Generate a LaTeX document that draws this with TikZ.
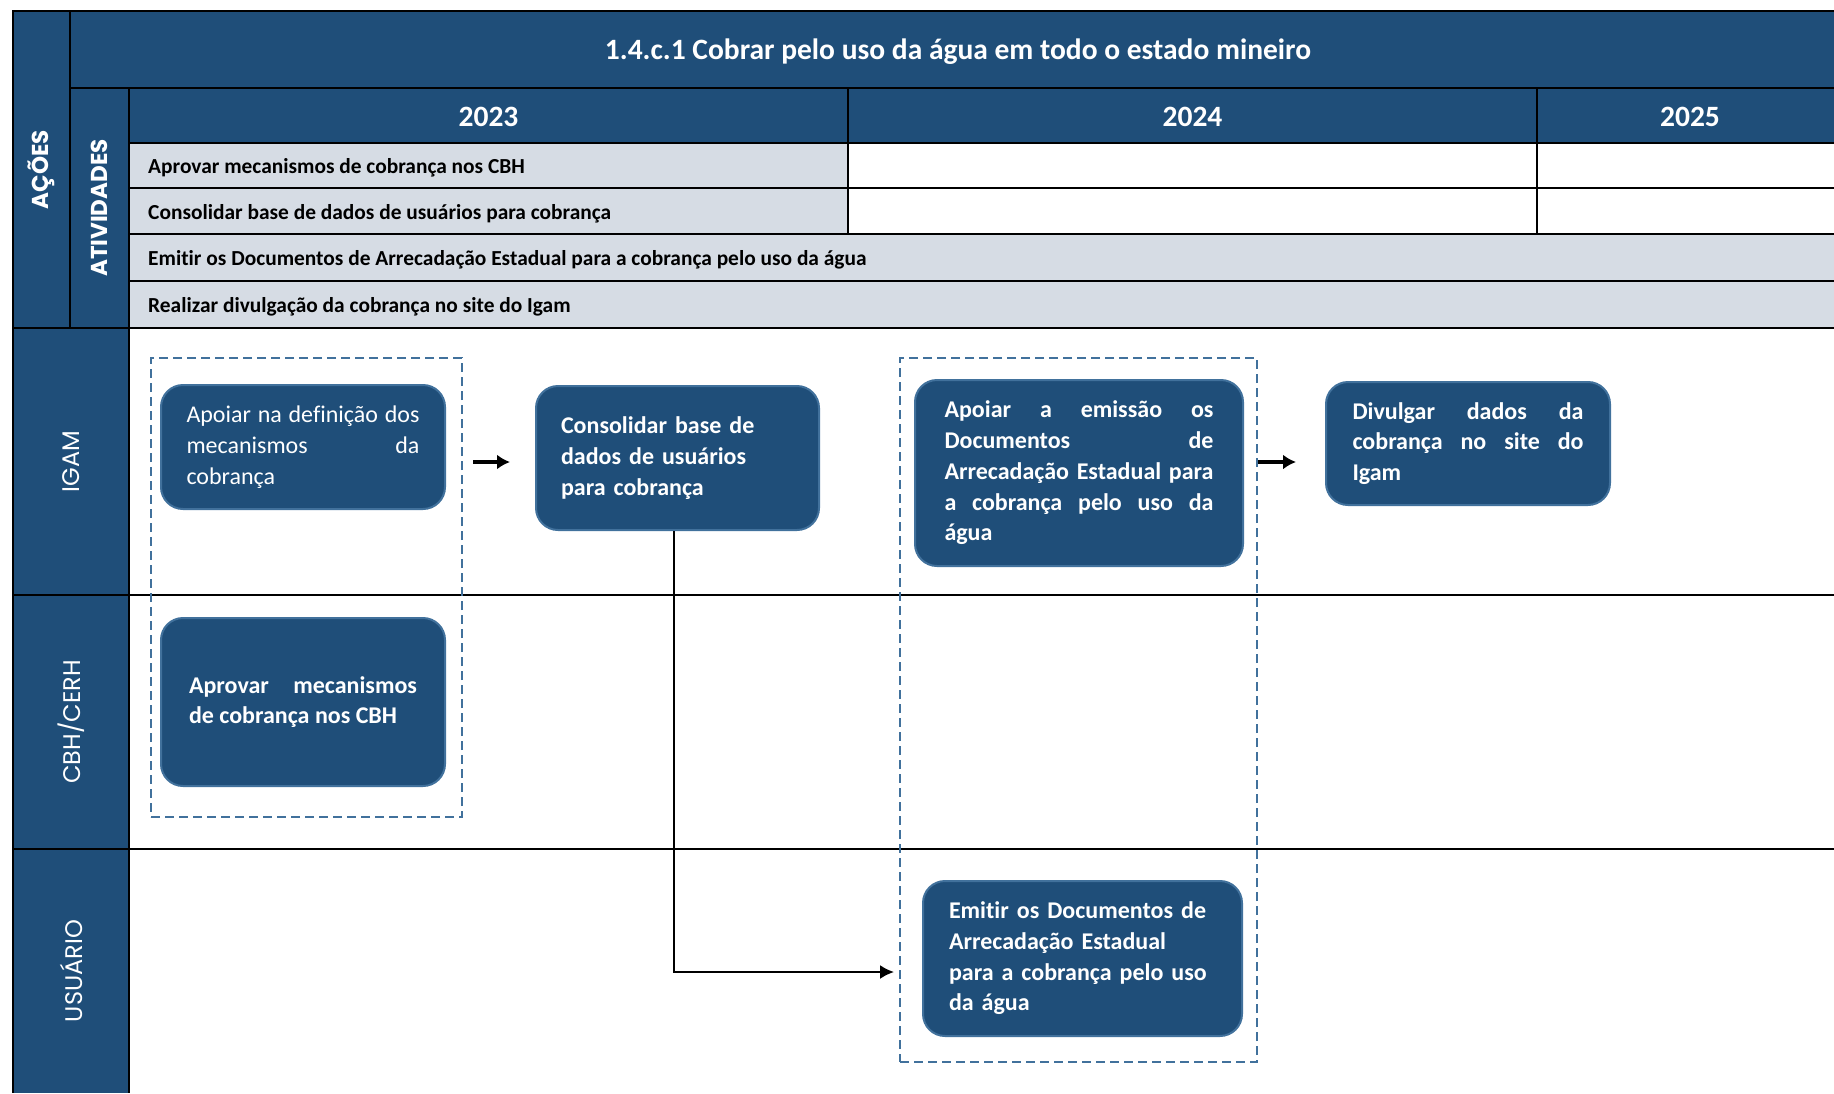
\documentclass[tikz,border=0pt]{standalone}
\usepackage{fontspec}
\setmainfont{Carlito}[Ligatures=NoCommon]
\newfontfamily\lanefont{Poppins}
\usetikzlibrary{arrows.meta}
\definecolor{azul}{HTML}{1F4E79}
\definecolor{borda}{HTML}{41719C}
\definecolor{cinza}{HTML}{D6DCE4}
\tikzset{>=latex}

\begin{document}
\begin{tikzpicture}[x=1pt,y=-1pt,
  linha/.style={line width=2.5pt},
  titulo/.style={text=white,font=\fontsize{29.5}{34}\selectfont\bfseries},
  ativ/.style={anchor=west,inner sep=0pt,font=\fontsize{21.4}{25}\selectfont\bfseries},
  vertical/.style={rotate=90,text=white,font=\lanefont\fontsize{23}{28}\selectfont\bfseries},
  raia/.style={rotate=90,text=white,font=\lanefont\fontsize{24}{28}\selectfont},
  caixa/.style={draw=borda,line width=2pt,fill=azul,rounded corners=22pt,text=white,
    inner sep=0pt,align=justify,font=\fontsize{24}{30.7}\selectfont\bfseries},
  grupo/.style={draw=borda,line width=2pt,dash pattern=on 9pt off 5pt,inner sep=0pt},
  seta/.style={line width=4pt,-{Latex[length=13pt,width=15pt]}},
  conector/.style={line width=2pt,-{Latex[length=14pt,width=14pt]}}]
  \useasboundingbox (0,0) rectangle (1834,1093);

  % fundo da tabela
  \fill[azul] (13,11) rectangle (1834,143);
  \fill[azul] (13,11) rectangle (129,1093);
  \fill[cinza] (129,143) rectangle (848,234);
  \fill[cinza] (129,234) rectangle (1834,328);
  \draw[linha] (1834,11) -- (13,11) -- (13,1093);
  \draw[linha] (70,11) -- (70,328);
  \draw[linha] (129,88) -- (129,1093);
  \draw[linha] (70,88) -- (1834,88);
  \foreach\y in {143,188,234,281}{
   \draw[linha] (129,\y) -- (1834,\y);}
  \foreach\y in {328,595,849}{
   \draw[linha] (13,\y) -- (1834,\y);}
  \foreach\x in {848,1537}{
   \draw[linha] (\x,88) -- (\x,234);}

  % cabecalho
  \node[titulo] (tit) at (958,52) {1.4.c.1 Cobrar pelo uso da água em todo o estado mineiro};
  \foreach\ano/\x in {2023/488.5,2024/1192.5,2025/1690}{
   \node[titulo] (a\ano) at (\x,117) {\ano};}
  \node[vertical] (acoes) at (41.5,169.5) {AÇÕES};
  \node[vertical] (atividades) at (99.5,208) {ATIVIDADES};
  \node[ativ] (at1) at (148,168) {Aprovar mecanismos de cobrança nos CBH};
  \node[ativ] (at2) at (148,213.5) {Consolidar base de dados de usuários para cobrança};
  \node[ativ] (at3) at (148,260) {Emitir os Documentos de Arrecadação Estadual para a cobrança pelo uso da água};
  \node[ativ] (at4) at (148,307) {Realizar divulgação da cobrança no site do Igam};

  % raias
  \node[raia] (igam) at (71,461.5) {IGAM};
  \node[raia] (cbh) at (71,722) {CBH/CERH};
  \node[raia] (usuario) at (71,971) {USUÁRIO};

  % grupos
  \node[grupo,minimum width=311pt,minimum height=459pt] (grp1) at (306.5,587.5) {};
  \node[grupo,minimum width=357pt,minimum height=704pt] (grp2) at (1078.5,710) {};

  % atividades
  \node[caixa,minimum width=284pt,minimum height=124pt,text width=233pt,font=\fontsize{24}{30.7}\selectfont]
    (apoiar) at (303,447) {Apoiar na definição dos\linebreak mecanismos da\linebreak cobrança};
  \node[caixa,minimum width=283pt,minimum height=144pt,text width=233pt,align=left]
    (cons) at (677.5,458) {Consolidar base de\\dados de usuários\\para cobrança};
  \node[caixa,minimum width=284pt,minimum height=168pt,text width=228pt]
    (aprovar) at (303,702) {Aprovar mecanismos\linebreak de cobrança nos CBH};
  \node[caixa,minimum width=328pt,minimum height=186pt,text width=269pt]
    (emissao) at (1079,473) {Apoiar a emissão os\linebreak Documentos de\linebreak Arrecadação Estadual para\linebreak a cobrança pelo uso da\linebreak água};
  \node[caixa,minimum width=284pt,minimum height=123pt,text width=231pt]
    (divulgar) at (1468,443.5) {Divulgar dados da\linebreak cobrança no site do\linebreak Igam};
  \node[caixa,minimum width=319pt,minimum height=155pt,text width=267pt,align=left]
    (emitir) at (1082.5,958.5) {Emitir os Documentos de\\Arrecadação Estadual\\para a cobrança pelo uso\\da água};

  % fluxo
  \coordinate (nivel) at (0,462);
  \coordinate (saida) at ([xshift=-3.5pt]cons.south);
  \coordinate (chegada) at (894,972);
  \draw[seta,shorten <=10pt,shorten >=25pt] (grp1.east |- nivel) -- (cons.west |- nivel);
  \draw[seta,shorten >=29pt] (grp2.east |- nivel) -- (divulgar.west |- nivel);
  \draw[conector] (saida) |- (chegada);
\end{tikzpicture}
\end{document}
